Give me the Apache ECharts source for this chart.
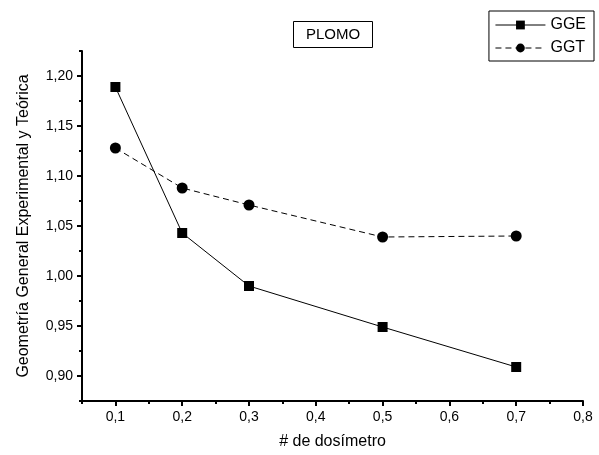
<!DOCTYPE html>
<html>
<head>
<meta charset="utf-8">
<script src="https://cdn.jsdelivr.net/npm/echarts@6/dist/echarts.min.js"></script>
<style>html,body{margin:0;padding:0;background:#fff;}#c{width:599px;height:455px;}</style>
</head>
<body>
<div id="c"></div>
<script>
var xValues = [0.1, 0.2, 0.3, 0.5, 0.7];
var gge = [1.189, 1.043, 0.990, 0.949, 0.909];
var ggt = [1.128, 1.088, 1.071, 1.039, 1.040];
var xTicks = [0.1, 0.2, 0.3, 0.4, 0.5, 0.6, 0.7, 0.8];
var yTicks = [0.90, 0.95, 1.00, 1.05, 1.10, 1.15, 1.20];

var FONT = '"Liberation Sans", Arial, sans-serif';
function fmt(d) { return function (v) { return v.toFixed(d).replace('.', ','); }; }

var chart = echarts.init(document.getElementById('c'));
chart.setOption({
  animation: false,
  backgroundColor: '#fff',
  title: {
    text: 'PLOMO', left: 293, top: 21,
    borderColor: '#000', borderWidth: 1, padding: [6, 13],
    textStyle: { fontFamily: FONT, fontSize: 15, fontWeight: 'normal', color: '#000' }
  },
  legend: {
    right: 5, top: 11, orient: 'vertical',
    borderColor: '#000', borderWidth: 1, padding: [6, 8, 5, 6], itemGap: 7,
    itemWidth: 50, itemHeight: 11,
    lineStyle: { width: 1 },
    textStyle: { fontFamily: FONT, fontSize: 16, color: '#000' },
    data: ['GGE', 'GGT']
  },
  grid: { left: 82, right: 16, top: 51, bottom: 53 },
  xAxis: [{
    type: 'value', min: 0.05, max: 0.8,
    name: '# de dosímetro', nameLocation: 'middle', nameGap: 33,
    nameTextStyle: { fontFamily: FONT, fontSize: 16, color: '#000' },
    axisLine: { onZero: false, lineStyle: { color: '#000', width: 2 } },
    axisTick: { customValues: xTicks, length: 5, lineStyle: { color: '#000', width: 2 } },
    axisLabel: { customValues: xTicks, formatter: fmt(1), fontFamily: FONT, fontSize: 14, color: '#000', margin: 9 },
    splitLine: { show: false }
  }, {
    type: 'value', min: 0.05, max: 0.8, interval: 0.05, position: 'bottom',
    axisLine: { show: false },
    axisTick: { length: 3, lineStyle: { color: '#000', width: 2 } },
    axisLabel: { show: false },
    splitLine: { show: false }
  }],
  yAxis: [{
    type: 'value', min: 0.875, max: 1.225,
    name: 'Geometría General Experimental y Teórica', nameLocation: 'middle', nameGap: 50,
    nameTextStyle: { fontFamily: FONT, fontSize: 16, color: '#000' },
    axisLine: { onZero: false, lineStyle: { color: '#000', width: 2 } },
    axisTick: { customValues: yTicks, length: 5, lineStyle: { color: '#000', width: 2 } },
    axisLabel: { customValues: yTicks, formatter: fmt(2), fontFamily: FONT, fontSize: 14, color: '#000', margin: 9 },
    splitLine: { show: false }
  }, {
    type: 'value', min: 0.875, max: 1.225, interval: 0.025, position: 'left',
    axisLine: { show: false },
    axisTick: { length: 3, lineStyle: { color: '#000', width: 2 } },
    axisLabel: { show: false },
    splitLine: { show: false }
  }],
  series: [{
    name: 'GGE', type: 'line',
    data: xValues.map(function (x, i) { return [x, gge[i]]; }),
    symbol: 'rect', symbolSize: 10,
    itemStyle: { color: '#000' },
    lineStyle: { color: '#000', width: 1 }
  }, {
    name: 'GGT', type: 'line',
    data: xValues.map(function (x, i) { return [x, ggt[i]]; }),
    symbol: 'circle', symbolSize: 11,
    itemStyle: { color: '#000' },
    lineStyle: { color: '#000', width: 1, type: [6, 4] }
  }]
});
</script>
</body>
</html>
